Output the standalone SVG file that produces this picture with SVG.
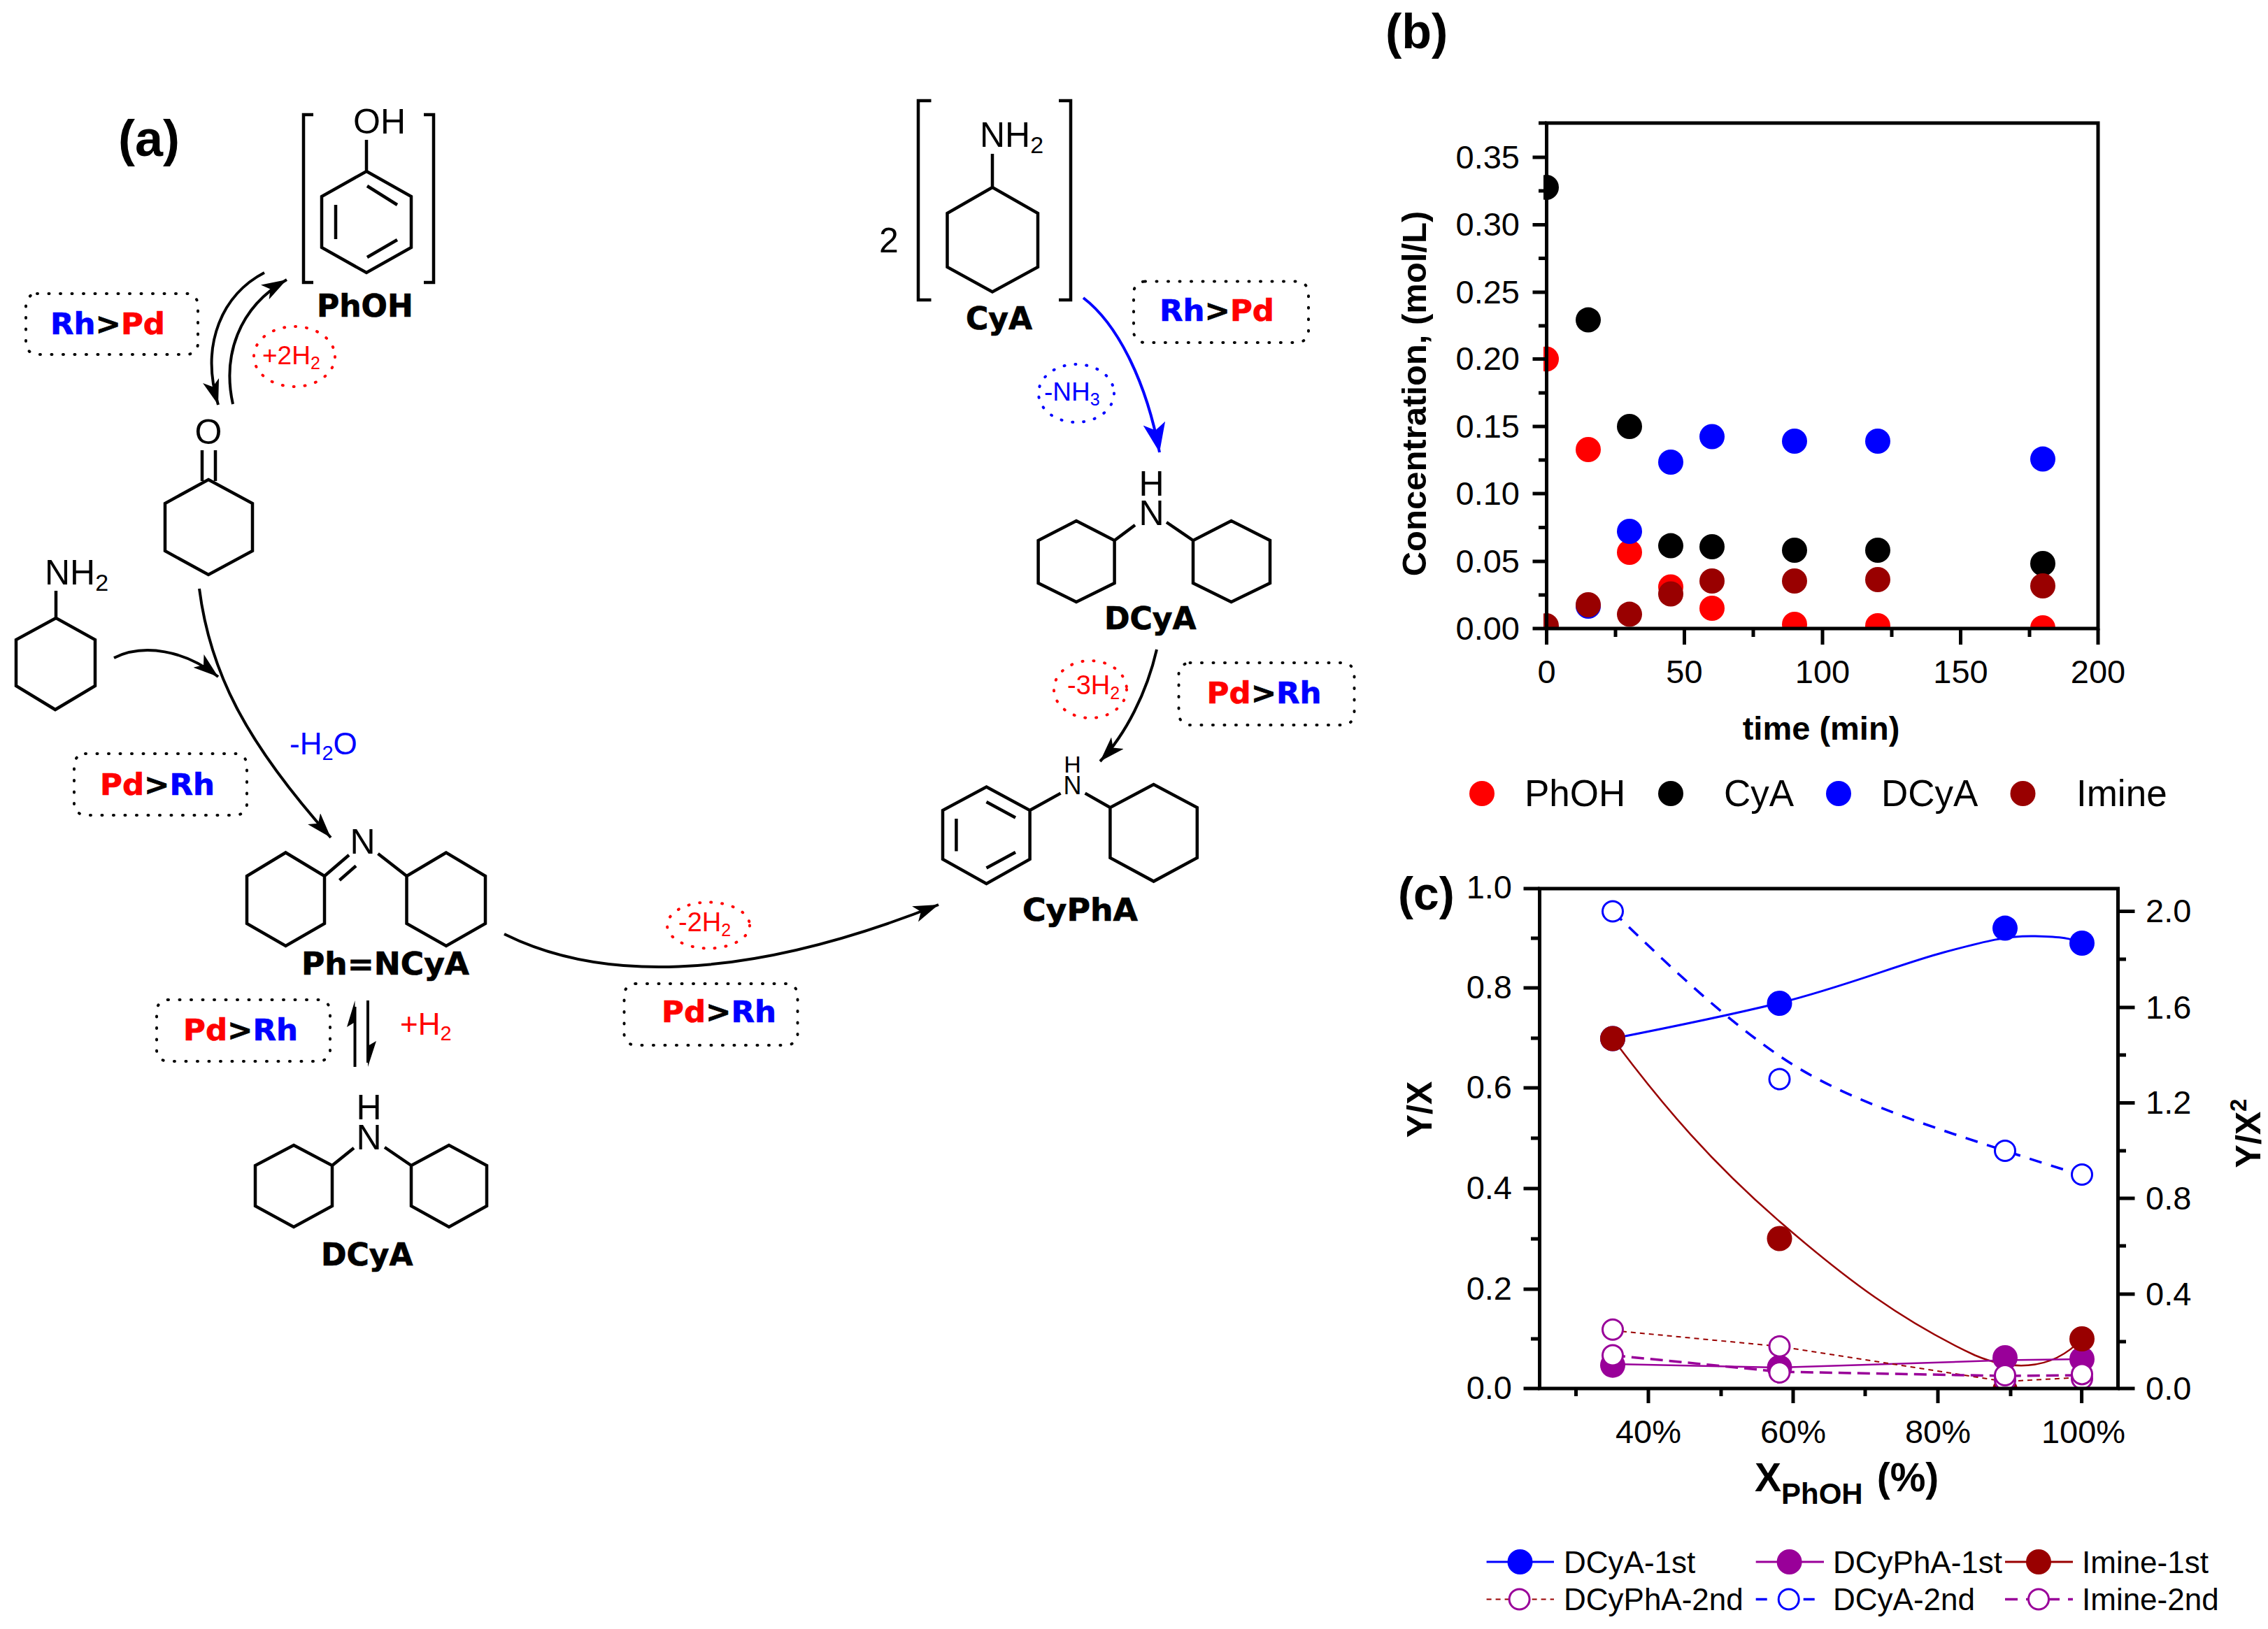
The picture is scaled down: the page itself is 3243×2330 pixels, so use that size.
<svg xmlns="http://www.w3.org/2000/svg" width="3243" height="2330" viewBox="0 0 3243 2330">
<style>
text{font-family:"Liberation Sans",Arial,sans-serif;fill:#000}
.bond{fill:none;stroke:#000;stroke-width:4.5;stroke-linejoin:miter;stroke-linecap:butt}
.atom{font-size:50px}
.name{font-family:"DejaVu Sans",sans-serif;font-weight:700;font-size:44px;stroke:#000;stroke-width:.7}
.cat{font-family:"DejaVu Sans",sans-serif;font-weight:700;font-size:43.500px;stroke:#000;stroke-width:.7}
.cat .rt{stroke:#f00}.cat .bt{stroke:#00f}
.box{fill:none;stroke:#000;stroke-width:4;stroke-dasharray:1 15.500;stroke-linecap:round}
.oval{fill:none;stroke-width:4;stroke-dasharray:1 15;stroke-linecap:round}
.arr{fill:none;stroke:#000;stroke-width:4}
.panel{font-weight:700;font-size:72px}
.tick{font-size:47px}
.axt{font-weight:700;font-size:48px}
.leg{font-size:44px}
.leg2{font-size:52px}
.ax{fill:none;stroke:#000;stroke-width:5}
.R{fill:#f00}.B{fill:#00f}.K{fill:#000}.D{fill:#900}.P{fill:#909}
.rt{fill:#f00}.bt{fill:#00f}
.ob{fill:#fff;stroke:#00f;stroke-width:3}
.op{fill:#fff;stroke:#909;stroke-width:3}
</style>
<defs>
<marker id="head" markerUnits="userSpaceOnUse" markerWidth="40" markerHeight="26" refX="36" refY="12" orient="auto"><path d="M36 12L0 0L9 12L0 24Z" fill="#000"/></marker>
<marker id="headb" markerUnits="userSpaceOnUse" markerWidth="46" markerHeight="34" refX="42" refY="16" orient="auto"><path d="M42 16L0 0L10 16L0 32Z" fill="#00f"/></marker>
<clipPath id="clipb"><rect x="2207" y="176" width="793" height="723"/></clipPath>
<clipPath id="clipc"><rect x="2201" y="1271" width="828" height="715"/></clipPath>
</defs>
<rect width="3243" height="2330" fill="#fff"/>
<text class="panel" x="169" y="223">(a)</text>
<text class="panel" x="1981" y="69" style="font-size:70px">(b)</text>
<text class="panel" x="1999" y="1301" style="font-size:66px">(c)</text>

<g id="phoh">
<path class="bond" d="M448 164H434V404H448M606 164H620V404H606"/>
<path class="bond" d="M524 245L588 281V354L524 390L460 354V281ZM524 200V245M525 266L568 293M568 343L525 368M480 293V342"/>
<text class="atom" x="505" y="191">OH</text>
<text class="name" x="453" y="453">PhOH</text>
</g>
<g id="cat1"><rect class="box" x="37" y="420" width="246" height="87" rx="16"/>
<text class="cat" x="72" y="478"><tspan class="bt">Rh</tspan>&gt;<tspan class="rt">Pd</tspan></text></g>
<g id="h2-1"><ellipse class="oval" stroke="#f00" cx="421" cy="510" rx="58" ry="43"/>
<text x="375" y="521" font-size="37" class="rt">+2H<tspan dy="7" font-size="25">2</tspan></text></g>

<g id="cyclohexanone">
<text class="atom" x="298" y="635" text-anchor="middle">O</text>
<path class="bond" d="M289 644V688M308 644V688M298 686L361 720V788L298 822L236 788V720Z"/>
</g>
<g id="amine-left">
<text class="atom" x="64" y="836">NH<tspan dy="9" font-size="34">2</tspan></text>
<path class="bond" d="M80 845V884L136 915V981L79 1015L23 981V915L80 884"/>
</g>
<text x="414" y="1079" font-size="44" class="bt">-H<tspan dy="8" font-size="29">2</tspan><tspan dy="-8">O</tspan></text>
<g id="cat2"><rect class="box" x="106" y="1078" width="247" height="88" rx="16"/>
<text class="cat" x="143" y="1137"><tspan class="rt">Pd</tspan>&gt;<tspan class="bt">Rh</tspan></text></g>

<g id="imine">
<text class="atom" x="518.500" y="1221" text-anchor="middle">N</text>
<path class="bond" d="M408.500 1219.500L464 1253V1321L408.500 1353L353 1321V1253ZM638 1219.500L581.500 1253V1321L638 1353L694 1321V1253ZM464 1253L499 1223M485.500 1259L509 1238.500M540.500 1221L581.500 1253"/>
<text class="name" x="431" y="1394" textLength="240" lengthAdjust="spacingAndGlyphs">Ph=NCyA</text>
</g>
<g id="cat3"><rect class="box" x="224" y="1430" width="248" height="88" rx="16"/>
<text class="cat" x="262" y="1488"><tspan class="rt">Pd</tspan>&gt;<tspan class="bt">Rh</tspan></text></g>
<text x="572" y="1480" font-size="44" class="rt">+H<tspan dy="8" font-size="29">2</tspan></text>

<g id="dcya-lower">
<text class="atom" text-anchor="middle"><tspan x="527.500" y="1601">H</tspan><tspan x="527.500" y="1643.500">N</tspan></text>
<path class="bond" d="M420 1638L475 1667V1725L420 1755L365 1725V1667ZM642 1638L588 1667V1725L642 1755L696 1725V1667ZM475 1667L506 1642M588 1667L550 1641"/>
<text class="name" x="459" y="1810">DCyA</text>
</g>

<g id="h2-2"><ellipse class="oval" stroke="#f00" cx="1013" cy="1323.500" rx="59" ry="33"/>
<text x="970" y="1332" font-size="38" class="rt">-2H<tspan dy="7" font-size="25">2</tspan></text></g>
<g id="cat4"><rect class="box" x="892.500" y="1407" width="248" height="88" rx="16"/>
<text class="cat" x="946" y="1462"><tspan class="rt">Pd</tspan>&gt;<tspan class="bt">Rh</tspan></text></g>

<g id="cya">
<text class="atom" x="1257" y="361">2</text>
<path class="bond" d="M1331.500 144H1313V429H1331.500M1514 144H1531V429H1514"/>
<path class="bond" d="M1419 220V268L1484 305V382L1419 417.500L1354.500 382V305L1419 268"/>
<text class="atom" x="1401" y="210">NH<tspan dy="9" font-size="34">2</tspan></text>
<text class="name" x="1381" y="470.600">CyA</text>
</g>
<g id="cat5"><rect class="box" x="1621" y="402.600" width="250" height="87.400" rx="16"/>
<text class="cat" x="1658" y="459"><tspan class="bt">Rh</tspan>&gt;<tspan class="rt">Pd</tspan></text></g>
<g id="nh3"><ellipse class="oval" stroke="#00f" cx="1539" cy="562.500" rx="54" ry="41.500"/>
<text x="1493" y="572.500" font-size="37" class="bt">-NH<tspan dy="7" font-size="25">3</tspan></text></g>

<g id="dcya-upper">
<text class="atom" text-anchor="middle"><tspan x="1646.500" y="709">H</tspan><tspan x="1646.500" y="751">N</tspan></text>
<path class="bond" d="M1539 745L1593.600 773V834L1539 861L1484.600 834V773ZM1760.600 745L1706 773V834L1760.600 861L1816 834V773ZM1593.600 773L1623 751M1706 773L1668 747"/>
<text class="name" x="1579" y="900">DCyA</text>
</g>
<g id="h2-3"><ellipse class="oval" stroke="#f00" cx="1559" cy="986" rx="52" ry="41"/>
<text x="1526" y="993" font-size="38" class="rt">-3H<tspan dy="7" font-size="25">2</tspan></text></g>
<g id="cat6"><rect class="box" x="1685.500" y="948" width="251" height="89" rx="16"/>
<text class="cat" x="1725.600" y="1006"><tspan class="rt">Pd</tspan>&gt;<tspan class="bt">Rh</tspan></text></g>

<g id="cypha">
<text text-anchor="middle"><tspan x="1533.500" y="1105" font-size="34">H</tspan><tspan x="1533.500" y="1136" font-size="36">N</tspan></text>
<path class="bond" d="M1410.500 1125.500L1472.600 1159V1229L1410.500 1264L1348 1229V1159ZM1410.500 1147L1452 1169.500M1410.500 1241.500L1452 1219M1367.400 1171V1217.500M1649.600 1122L1587.400 1155V1227L1649.600 1260.600L1711.800 1227V1155ZM1472.600 1159L1516.600 1134.600M1587.400 1155L1551.600 1134.600"/>
<text class="name" x="1462" y="1317" textLength="165" lengthAdjust="spacingAndGlyphs">CyPhA</text>
</g>

<g id="connectors">
<path class="arr" marker-end="url(#head)" d="M378 390C320 420 285 490 312 579"/>
<path class="arr" marker-end="url(#head)" d="M333 578C318 510 340 440 410 400"/>
<path class="arr" marker-end="url(#head)" d="M285 842C300 960 350 1060 473 1198"/>
<path class="arr" marker-end="url(#head)" d="M163 941C205 920 265 930 312 968"/>
<path class="arr" marker-end="url(#head)" d="M721 1336C850 1400 1050 1410 1342 1294"/>
<path class="arr" style="stroke:#00f" marker-end="url(#headb)" d="M1549 426C1600 465 1640 550 1658 647"/>
<path class="arr" marker-end="url(#head)" d="M1654 929C1640 990 1610 1050 1573 1089"/>
<path class="arr" d="M507.500 1440V1526M526 1431V1520"/>
<path d="M507.500 1431L496 1469L507.500 1462ZM526 1526L538 1489L526 1496Z" fill="#000"/>
</g>

<g id="plot-b">
<g clip-path="url(#clipb)">
<g class="R"><circle cx="2211" cy="513.500" r="18"/><circle cx="2271" cy="643" r="18"/><circle cx="2330" cy="790" r="18"/><circle cx="2389" cy="839.500" r="18"/><circle cx="2448" cy="870" r="18"/><circle cx="2566" cy="893" r="18"/><circle cx="2685" cy="895" r="18"/><circle cx="2921" cy="898" r="18"/></g>
<g class="K"><circle cx="2211" cy="268" r="18"/><circle cx="2271" cy="457.600" r="18"/><circle cx="2330" cy="610" r="18"/><circle cx="2389" cy="780.600" r="18"/><circle cx="2448" cy="782" r="18"/><circle cx="2566" cy="787" r="18"/><circle cx="2685" cy="787" r="18"/><circle cx="2921" cy="806" r="18"/></g>
<g class="B"><circle cx="2271" cy="867" r="18"/><circle cx="2330" cy="760" r="18"/><circle cx="2389" cy="661" r="18"/><circle cx="2448" cy="624.500" r="18"/><circle cx="2566" cy="631" r="18"/><circle cx="2685" cy="631" r="18"/><circle cx="2921" cy="656.600" r="18"/></g>
<g class="D"><circle cx="2211" cy="895" r="18"/><circle cx="2271" cy="865" r="18"/><circle cx="2330" cy="878.600" r="18"/><circle cx="2389" cy="849.500" r="18"/><circle cx="2448" cy="831" r="18"/><circle cx="2566" cy="831" r="18"/><circle cx="2685" cy="829" r="18"/><circle cx="2921" cy="838" r="18"/></g>
</g>
<path class="ax" d="M2211.500 176H3000V899H2211.500Z"/>
<path class="ax" d="M2191.500 225H2211.500M2191.500 321.400H2211.500M2191.500 418H2211.500M2191.500 513.500H2211.500M2191.500 610H2211.500M2191.500 706H2211.500M2191.500 803H2211.500M2191.500 899H2211.500M2200 176H2211.500M2200 273H2211.500M2200 369.500H2211.500M2200 466H2211.500M2200 562H2211.500M2200 658H2211.500M2200 754.500H2211.500M2200 851H2211.500"/>
<path class="ax" d="M2211.500 899V922M2408.500 899V922M2606 899V922M2803.500 899V922M3000 899V922M2310 899V911M2507 899V911M2705 899V911M2902 899V911"/>
<g class="tick" text-anchor="end"><text x="2173" y="241">0.35</text><text x="2173" y="337">0.30</text><text x="2173" y="434">0.25</text><text x="2173" y="529">0.20</text><text x="2173" y="626">0.15</text><text x="2173" y="722">0.10</text><text x="2173" y="819">0.05</text><text x="2173" y="915">0.00</text></g>
<g class="tick" text-anchor="middle"><text x="2211.500" y="977">0</text><text x="2408.500" y="977">50</text><text x="2606" y="977">100</text><text x="2803.500" y="977">150</text><text x="3000" y="977">200</text></g>
<text class="axt" transform="translate(2039 563) rotate(-90)" text-anchor="middle" style="font-size:49px">Concentration, (mol/L)</text>
<text class="axt" x="2604" y="1058" text-anchor="middle" style="font-size:47px">time (min)</text>
<g id="legend-b">
<circle class="R" cx="2119" cy="1135" r="18"/><text class="leg2" x="2180" y="1153" style="font-size:53px">PhOH</text>
<circle class="K" cx="2389" cy="1135" r="18"/><text class="leg2" x="2465" y="1153" style="font-size:53px">CyA</text>
<circle class="B" cx="2629" cy="1135" r="18"/><text class="leg2" x="2690" y="1153" style="font-size:53px">DCyA</text>
<circle class="D" cx="2892.500" cy="1135" r="18"/><text class="leg2" x="2969" y="1153" style="font-size:53px">Imine</text>
</g>
</g>

<g id="plot-c">
<g clip-path="url(#clipc)">
<path fill="none" stroke="#00f" stroke-width="3" d="M2306 1485.500C2385 1470 2460 1455 2544.500 1434.500S2720 1378 2780 1362S2870 1338 2910 1339S2960 1342 2977 1349"/>
<path fill="none" stroke="#00f" stroke-width="3.500" stroke-dasharray="18 14" d="M2306 1303.500C2385 1380 2460 1452 2544 1510S2740 1605 2867 1646S2950 1672 2977 1680"/>
<path fill="none" stroke="#900" stroke-width="2.500" d="M2306 1485.500C2380 1585 2450 1665 2544.500 1747S2720 1890 2824 1938.500C2870 1958 2930 1965 2977 1915"/>
<path fill="none" stroke="#909" stroke-width="2.500" d="M2306 1951L2544 1956L2867 1945.600L2977 1944"/>
<path fill="none" stroke="#900" stroke-width="2" stroke-dasharray="7 6" d="M2306 1903L2544 1925.800L2867 1976L2977 1970"/>
<path fill="none" stroke="#909" stroke-width="3.500" stroke-dasharray="18 9" d="M2306 1938.500L2544 1962L2867 1968L2977 1967"/>
<g class="B"><circle cx="2306" cy="1485.500" r="18"/><circle cx="2544.500" cy="1435" r="18"/><circle cx="2867" cy="1327.600" r="18"/><circle cx="2977" cy="1349" r="18"/></g>
<g class="P"><circle cx="2306" cy="1952.700" r="18"/><circle cx="2544.500" cy="1956" r="18"/><circle cx="2867" cy="1942" r="18"/><circle cx="2977" cy="1944" r="18"/></g>
<g class="D"><circle cx="2306" cy="1485.500" r="18"/><circle cx="2544.500" cy="1771.500" r="18"/><circle cx="2867" cy="1988" r="18"/><circle cx="2977" cy="1915" r="18"/></g>
<g class="ob"><circle cx="2306" cy="1303.500" r="14.500"/><circle cx="2544.500" cy="1543.500" r="14.500"/><circle cx="2867" cy="1646" r="14.500"/><circle cx="2977" cy="1680" r="14.500"/></g>
<g class="op"><circle cx="2306" cy="1901.700" r="14.500"/><circle cx="2544.500" cy="1925.800" r="14.500"/><circle cx="2867" cy="1974" r="14.500"/><circle cx="2977" cy="1972" r="14.500"/>
<circle cx="2306" cy="1938.500" r="14.500"/><circle cx="2544.500" cy="1963" r="14.500"/><circle cx="2867" cy="1967" r="14.500"/><circle cx="2977" cy="1965.400" r="14.500"/></g>
</g>
<path class="ax" d="M2201.500 1271H3028.500V1986H2201.500Z"/>
<path class="ax" d="M2178.500 1271H2201.500M2178.500 1413H2201.500M2178.500 1556H2201.500M2178.500 1700H2201.500M2178.500 1844H2201.500M2178.500 1986H2201.500M2189 1342H2201.500M2189 1485H2201.500M2189 1628H2201.500M2189 1772H2201.500M2189 1915H2201.500"/>
<path class="ax" d="M3028.500 1303.500H3052.500M3028.500 1441H3052.500M3028.500 1577.500H3052.500M3028.500 1714H3052.500M3028.500 1851H3052.500M3028.500 1986H3052.500M3028.500 1372H3040M3028.500 1509H3040M3028.500 1646H3040M3028.500 1782H3040M3028.500 1919H3040"/>
<path class="ax" d="M2357 1986V2007M2564 1986V2007M2771 1986V2007M2976.600 1986V2007M2253.500 1986V1997M2461 1986V1997M2667 1986V1997M2875 1986V1997"/>
<g class="tick" text-anchor="end"><text x="2162" y="1285">1.0</text><text x="2162" y="1428">0.8</text><text x="2162" y="1571">0.6</text><text x="2162" y="1715">0.4</text><text x="2162" y="1859">0.2</text><text x="2162" y="2001">0.0</text></g>
<g class="tick"><text x="3068" y="1319">2.0</text><text x="3068" y="1457">1.6</text><text x="3068" y="1593">1.2</text><text x="3068" y="1730">0.8</text><text x="3068" y="1867">0.4</text><text x="3068" y="2002">0.0</text></g>
<g class="tick" text-anchor="middle"><text x="2357" y="2064">40%</text><text x="2564" y="2064">60%</text><text x="2771" y="2064">80%</text><text x="2979" y="2064">100%</text></g>
<text class="axt" transform="translate(2047 1587) rotate(-90)" text-anchor="middle" style="font-size:50px">Y/X</text>
<text class="axt" transform="translate(3232 1621) rotate(-90)" text-anchor="middle" style="font-size:50px">Y/X<tspan dy="-20" font-size="33">2</tspan></text>
<text class="axt" x="2509" y="2133" style="font-size:57px">X<tspan dy="18" font-size="42">PhOH</tspan><tspan dy="-18" dx="20">(%)</tspan></text>
<g id="legend-c">
<path stroke="#00f" stroke-width="3" d="M2125.600 2234H2222"/><circle class="B" cx="2173.500" cy="2234" r="18"/><text class="leg" x="2236" y="2250">DCyA-1st</text>
<path stroke="#909" stroke-width="3" d="M2510.700 2234H2608"/><circle class="P" cx="2558.600" cy="2234" r="18"/><text class="leg" x="2621" y="2250">DCyPhA-1st</text>
<path stroke="#900" stroke-width="3" d="M2867 2234H2964"/><circle class="D" cx="2915" cy="2234" r="18"/><text class="leg" x="2977" y="2250">Imine-1st</text>
<path stroke="#900" stroke-width="2" stroke-dasharray="7 6" d="M2125.600 2287.500H2222"/><circle class="op" cx="2172.600" cy="2287.500" r="14.500"/><text class="leg" x="2236" y="2303">DCyPhA-2nd</text>
<path stroke="#00f" stroke-width="3.500" stroke-dasharray="16 18" d="M2510.700 2287.500H2608"/><circle class="ob" cx="2557.700" cy="2287.500" r="14.500"/><text class="leg" x="2621" y="2303">DCyA-2nd</text>
<path stroke="#909" stroke-width="3.500" stroke-dasharray="18 12" d="M2867 2287.500H2964"/><circle class="op" cx="2915" cy="2287.500" r="14.500"/><text class="leg" x="2977" y="2303">Imine-2nd</text>
</g>
</g>
</svg>
